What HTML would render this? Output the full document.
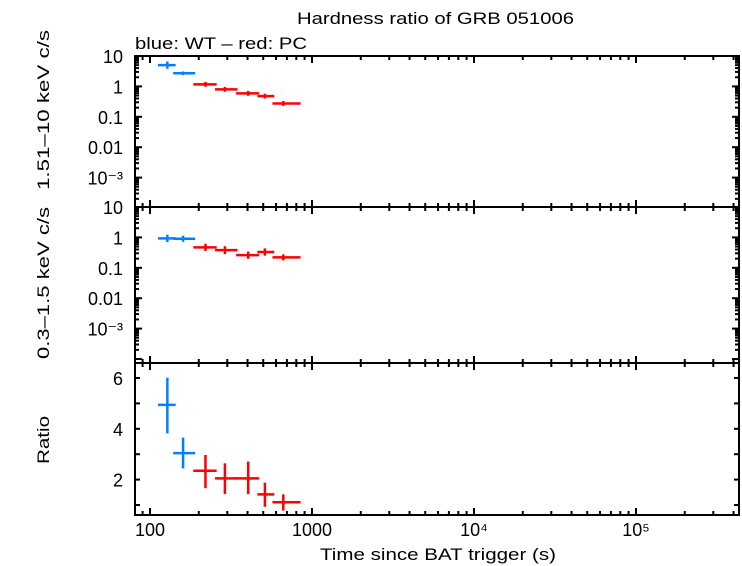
<!DOCTYPE html>
<html><head><meta charset="utf-8"><style>
html,body{margin:0;padding:0;background:#fff;}
svg{display:block;font-family:"Liberation Sans",Arial,sans-serif;}
</style></head><body>
<svg id="chart" width="742" height="566" viewBox="0 0 742 566">
<text x="297" y="24" font-size="17" textLength="277" lengthAdjust="spacingAndGlyphs">Hardness ratio of GRB 051006</text>
<text x="135" y="49" font-size="17" textLength="172" lengthAdjust="spacingAndGlyphs">blue: WT – red: PC</text>
<text transform="translate(49,110) rotate(-90)" font-size="17" text-anchor="middle" textLength="160" lengthAdjust="spacingAndGlyphs">1.51–10 keV c/s</text>
<text transform="translate(49,283) rotate(-90)" font-size="17" text-anchor="middle" textLength="152" lengthAdjust="spacingAndGlyphs">0.3–1.5 keV c/s</text>
<text transform="translate(49,440) rotate(-90)" font-size="17" text-anchor="middle" textLength="48" lengthAdjust="spacingAndGlyphs">Ratio</text>
<text x="320" y="560" font-size="17" textLength="236" lengthAdjust="spacingAndGlyphs">Time since BAT trigger (s)</text>
<g id="g"></g>
</svg>
<script>
// data
const seriesColor = ["#0080ff","#0080ff","#ff0000","#ff0000","#ff0000","#ff0000","#ff0000"];
const tCenter = [128, 160, 220, 290, 404, 512, 665];
const tLow    = [112, 139, 185, 252, 340, 460, 570];
const tHigh   = [144, 190, 258, 347, 472, 585, 850];
const hardRate = [5.0, 2.7, 1.17, 0.8, 0.59, 0.48, 0.275];
const hardErr  = [0.12, 0.06, 0.08, 0.08, 0.08, 0.08, 0.08]; // dex
const softRate = [0.93, 0.9, 0.47, 0.38, 0.26, 0.33, 0.22];
const softErr  = [0.12, 0.1, 0.12, 0.13, 0.12, 0.12, 0.1]; // dex
const ratioVal  = [4.94, 3.04, 2.35, 2.05, 2.05, 1.42, 1.11];
const ratioLow  = [3.82, 2.44, 1.66, 1.43, 1.43, 0.93, 0.78];
const ratioHigh = [6.01, 3.65, 2.97, 2.64, 2.71, 1.88, 1.42];
const logTickLabels = ["10","1","0.1","0.01","10⁻³"];
const logTickValues = [10,1,0.1,0.01,0.001];
const ratioTickValues = [2,4,6];
const xTickValues = [100,1000,10000,100000];
const xTickLabels = ["100","1000","10⁴","10⁵"];

const NS="http://www.w3.org/2000/svg";
const g=document.getElementById('g');
const L=135,R=739;
const panels=[{t:56,b:207},{t:207,b:363},{t:363,b:515}];
const X=v=>150+(Math.log10(v)-2)*162;
const Ylog=(p,v)=>p.t+(1-Math.log10(v))*30.4;
const Yr=v=>505-(v-1)*25.4;
function mk(tag,attrs){const e=document.createElementNS(NS,tag);for(const k in attrs)e.setAttribute(k,attrs[k]);g.appendChild(e);return e;}
function line(x1,y1,x2,y2,c,w){return mk('line',{x1,y1,x2,y2,stroke:c,'stroke-width':w});}

panels.forEach((p,i)=>{
  const r=mk('rect',{x:L,y:p.t,width:R-L,height:p.b-p.t,fill:'none',stroke:'#000','stroke-width':2});
  
  
  for(let d=1;d<=5;d++){for(let m=1;m<10;m++){const v=m*Math.pow(10,d);const x=X(v);if(x<L||x>R)continue;const len=m===1?7:4;
    line(x,p.t,x,p.t+len,'#000',2);line(x,p.b,x,p.b-len,'#000',2);}}
});
xTickValues.forEach((v,i)=>{const t=mk('text',{x:X(v),y:536,'font-size':18,'text-anchor':'middle'});t.textContent=xTickLabels[i];
  
  });
[panels[0],panels[1]].forEach((p,pi)=>{
  for(let d=-4;d<=1;d++){for(let m=1;m<10;m++){const v=m*Math.pow(10,d);const y=Ylog(p,v);if(y<p.t-0.5||y>p.b)continue;const len=m===1?7:4;
    line(L,y,L+len,y,'#000',2);line(R,y,R-len,y,'#000',2);}}
  logTickValues.forEach((v,i)=>{const t=mk('text',{x:123,y:Ylog(p,v)+7,'font-size':18,'text-anchor':'end'});t.textContent=logTickLabels[i];
    
    });
});
for(let v=1;v<=6;v++){const y=Yr(v);line(L,y,L+5,y,'#000',2);line(R,y,R-5,y,'#000',2);}
ratioTickValues.forEach(v=>{const t=mk('text',{x:123,y:Yr(v)+7,'font-size':18,'text-anchor':'end'});t.textContent=String(v);
  
  });
tCenter.forEach((tc,i)=>{
  const c=seriesColor[i];
  [[panels[0],hardRate,hardErr,'hard'],[panels[1],softRate,softErr,'soft']].forEach(([p,vals,errs,nm])=>{
    const y=Ylog(p,vals[i]);
    const h=line(X(tLow[i]),y,X(tHigh[i]),y,c,2.5);
    
    
    line(X(tc),Ylog(p,vals[i]*Math.pow(10,errs[i])),X(tc),Ylog(p,vals[i]/Math.pow(10,errs[i])),c,2.5);
  });
  const y=Yr(ratioVal[i]);
  const h=line(X(tLow[i]),y,X(tHigh[i]),y,c,2.5);
  
  
  line(X(tc),Yr(ratioHigh[i]),X(tc),Yr(ratioLow[i]),c,2.5);
});
</script>
</body></html>
